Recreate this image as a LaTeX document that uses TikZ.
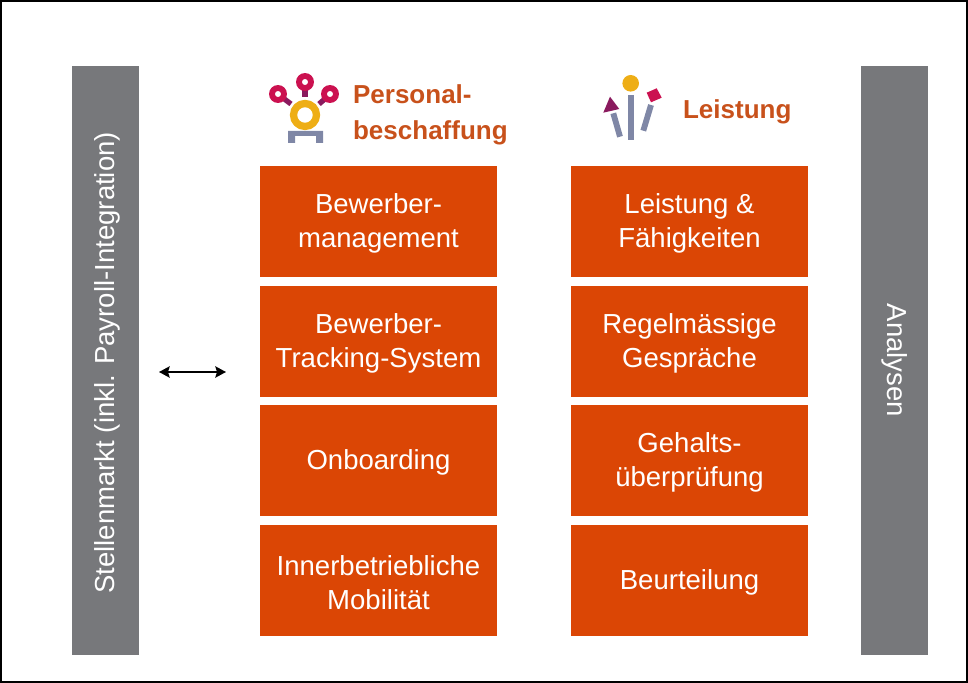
\documentclass[tikz,border=0pt]{standalone}
\usepackage{fontspec}
\setmainfont{Liberation Sans}
\usetikzlibrary{arrows.meta, positioning}
\definecolor{corange}{HTML}{DB4605}
\definecolor{ctitle}{HTML}{C8511B}
\definecolor{cgrey}{HTML}{77787B}
\definecolor{cmagenta}{HTML}{CB1150}
\definecolor{cplum}{HTML}{8A1A5E}
\definecolor{cyellow}{HTML}{EEAE16}
\definecolor{cslate}{HTML}{7F87A6}
\tikzset{
  every picture/.style={font=\fontsize{23.5pt}{29pt}\selectfont, line width=1pt},
  tile/.style={fill=corange, text=white, align=center, minimum width=7.11cm, minimum height=3.33cm, inner sep=0pt},
  sidebar/.style={fill=cgrey, text=white, rotate=90, align=center, minimum width=17.67cm, minimum height=2.01cm, inner sep=0pt},
  head/.style={text=ctitle, font=\fontsize{22.2pt}{30.6pt}\selectfont\bfseries, align=left, anchor=west, inner sep=0pt},
  link/.style={{Stealth[length=3.2mm, width=3.4mm, inset=0.5mm]}-{Stealth[length=3.2mm, width=3.4mm, inset=0.5mm]}, draw=black, line width=1.5pt},
}
\newcommand{\tp}{\rule{0pt}{20.5pt}}
\begin{document}
\begin{tikzpicture}[x=0.03cm, y=-0.03cm]
  \useasboundingbox (0,0) rectangle (968,683);
  \draw[line width=1.2pt] (1,1) rectangle (967,682);

  % side bars
  \node[sidebar] (markt) at (105.5,360.5) {\tp Stellenmarkt (inkl. Payroll-Integration)\hspace*{4pt}};
  \node[sidebar, rotate=180] (analysen) at (894.5,360.5) {Analysen};

  % headings
  \node[head] (pers) at (352.5,115) {Personal-\\beschaffung};
  \node[head] (leis) at (682.5,112) {Leistung};

  % left column
  \node[tile] (bm) at (378.5,221.5) {\tp Bewerber-\\management};
  \node[tile] (bt) at (378.5,341.5) {\tp Bewerber-\\Tracking-System};
  \node[tile] (on) at (378.5,460.5) {\tp Onboarding};
  \node[tile] (im) at (378.5,580.5) {\tp Innerbetriebliche\\Mobilität};

  % right column
  \node[tile] (lf) at (689.5,221.5) {\tp Leistung \&\\Fähigkeiten};
  \node[tile] (rg) at (689.5,341.5) {\tp Regelmässige\\Gespräche};
  \node[tile] (gh) at (689.5,460.5) {\tp Gehalts-\\überprüfung};
  \node[tile] (bu) at (689.5,580.5) {\tp Beurteilung};

  % arrow
  \coordinate (linkl) at (159,372);
  \coordinate (linkr) at (226,372);
  \draw[link] (linkl) -- (linkr);

  % icon personal
  \draw[cplum, line width=4.5pt] (305,88) -- (305,97);
  \draw[cplum, line width=4.5pt] (283,98) -- (291,104);
  \draw[cplum, line width=4.5pt] (326,98) -- (319,104);
  \foreach \p in {(305,82), (278,94), (330,94)}
    \draw[cmagenta, line width=5pt] \p circle (6);
  \draw[cyellow, line width=6.2pt] (305,115) circle (11.5);
  \fill[cslate] (288,131) -- (323,131) -- (323,143) -- (316,143) -- (316,136) -- (295,136) -- (295,143) -- (288,143) -- cycle;

  % icon leistung
  \fill[cyellow] (630.7,83.3) circle (8.3);
  \fill[cslate] (627.7,95) rectangle (633.7,140);
  \draw[cslate, line width=5pt] (613.3,113.3) -- (620,136.7);
  \draw[cslate, line width=5pt] (651,105) -- (643.3,130.7);
  \fill[cplum] (610,96.7) -- (619.3,109) -- (603.3,112.7) -- cycle;
  \fill[cmagenta] (656.7,88.3) -- (661.7,97.7) -- (651,102.3) -- (646.7,92.7) -- cycle;
\end{tikzpicture}
\end{document}
